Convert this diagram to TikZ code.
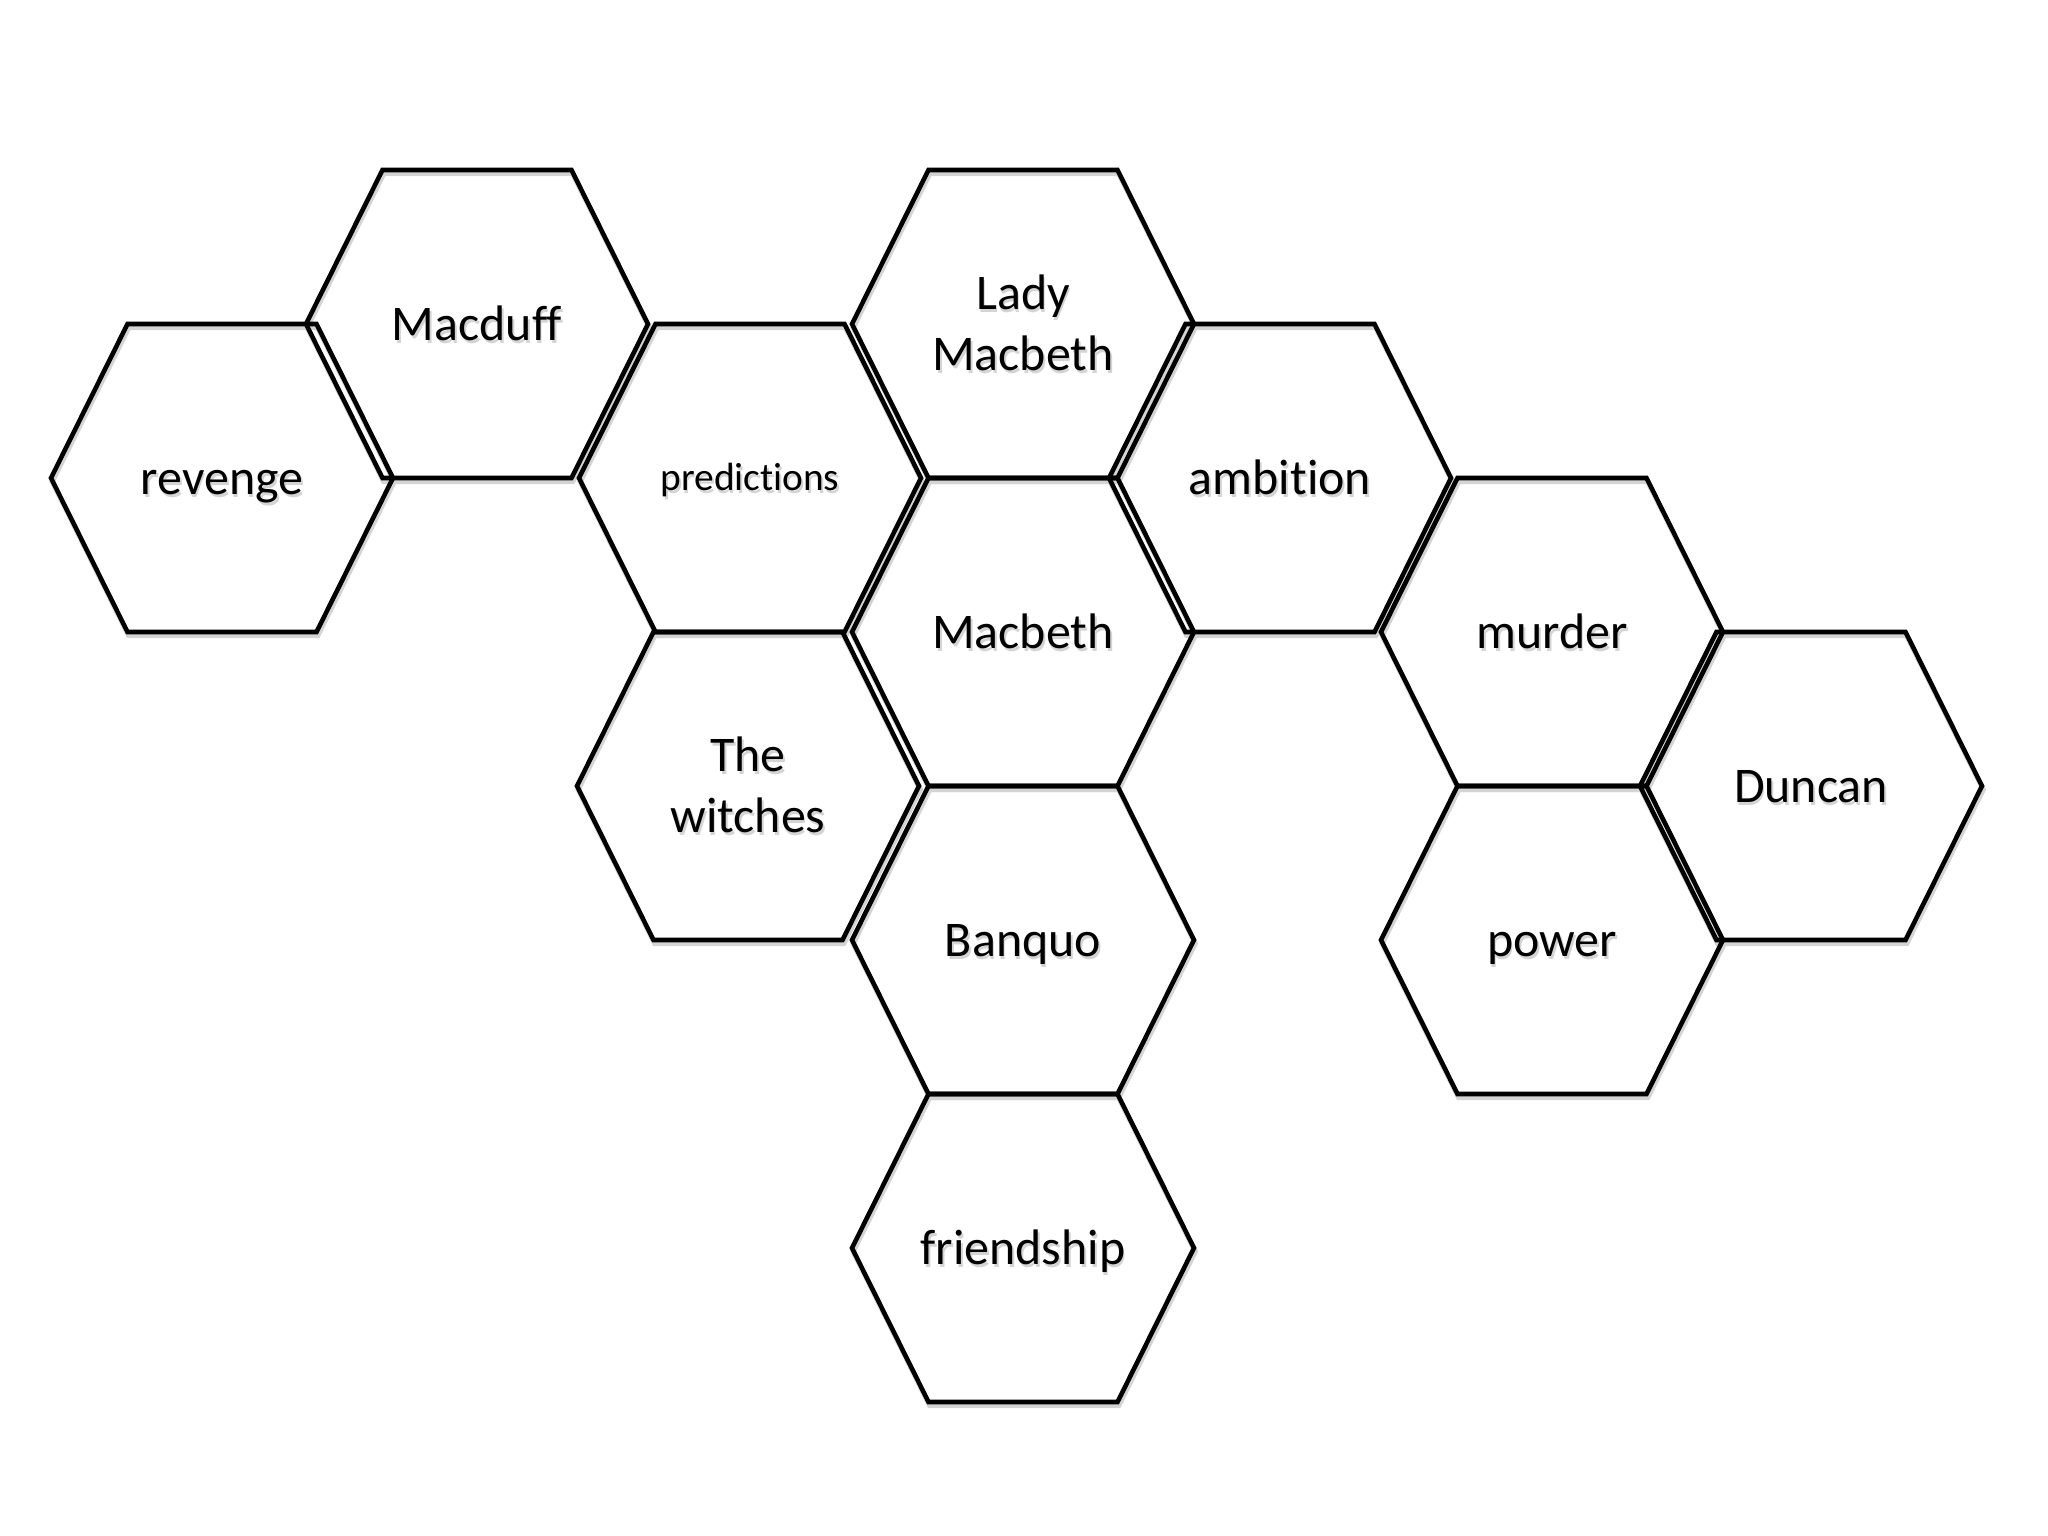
\documentclass[tikz,border=0pt]{standalone}
\usepackage{fontspec}
\setmainfont[Ligatures=NoCommon]{Carlito}
\usepackage{tikz}

% soft grey copy of a word, a little down and to the right
\newcommand\txtshadow[1]{\rule[-0.28em]{0pt}{1.21em}\makebox[0pt][l]{\hspace{0.5pt}\raisebox{-0.8pt}{\color{black!17}#1}}#1}

\begin{document}
\begin{tikzpicture}[
font=\fontsize{14.2}{17.3}\selectfont,
word/.style={align=center, inner sep=0pt},
hexline/.style={line width=1.3pt},
hexshadow/.style={shift={(0.012,-0.035)}, line width=1.5pt, black!17},
hexcell/.pic={\draw[#1] (-1.71,0) -- (-0.945,1.54) -- (0.945,1.54) -- (1.71,0)
    -- (0.945,-1.54) -- (-0.945,-1.54) -- cycle;},
scale=1]
    \useasboundingbox (0,0) rectangle (20.48,-15.36);

    % Words
    \node[word] (revenge) at (2.22,-4.78) {\txtshadow{revenge}};
    \node[word] (macduff) at (4.77,-3.24) {\txtshadow{Macduff}};
    \node[word,font=\fontsize{11.2}{13.6}\selectfont] (predictions) at (7.50,-4.78) {\txtshadow{predictions}};
    \node[word] (witches) at (7.48,-7.86) {\txtshadow{The}\\\txtshadow{witches}};
    \node[word] (ladymac) at (10.23,-3.24) {\txtshadow{Lady}\\\txtshadow{Macbeth}};
    \node[word] (macbeth) at (10.23,-6.32) {\txtshadow{Macbeth}};
    \node[word] (banquo) at (10.23,-9.40) {\txtshadow{Banquo}};
    \node[word] (friendship) at (10.23,-12.48) {\txtshadow{friendship}};
    \node[word] (ambition) at (12.80,-4.78) {\txtshadow{ambition}};
    \node[word] (murder) at (15.52,-6.32) {\txtshadow{murder}};
    \node[word] (power) at (15.52,-9.40) {\txtshadow{power}};
    \node[word] (duncan) at (18.11,-7.86) {\txtshadow{Duncan}};

    % Cells round the words
    \foreach \cell in {revenge,macduff,predictions,witches,ladymac,macbeth,
                       banquo,friendship,ambition,murder,power,duncan}
        \pic at (\cell) {hexcell=hexshadow};
    \foreach \cell in {revenge,macduff,predictions,witches,ladymac,macbeth,
                       banquo,friendship,ambition,murder,power,duncan}
        \pic at (\cell) {hexcell=hexline};

\end{tikzpicture}
\end{document}
